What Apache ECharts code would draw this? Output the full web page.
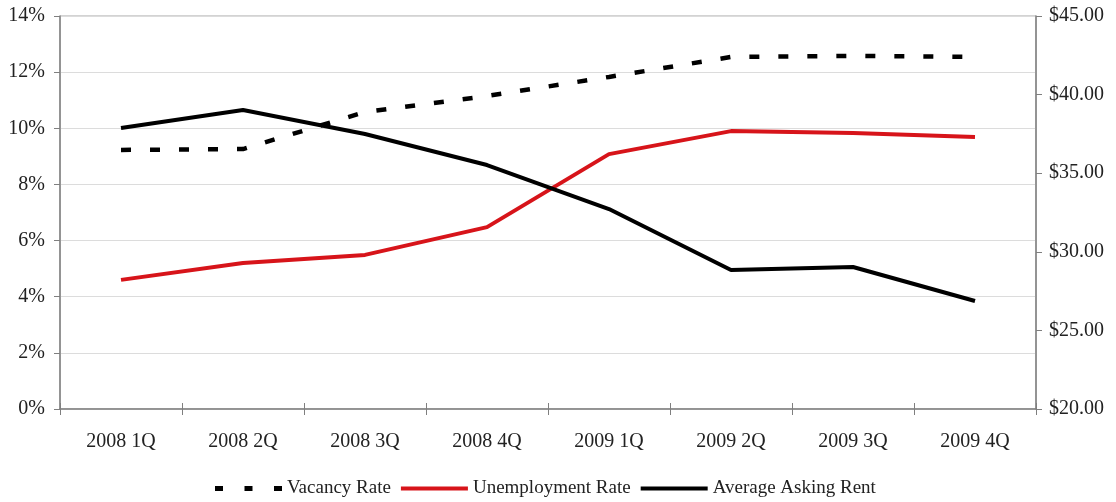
<!DOCTYPE html>
<html>
<head>
<meta charset="utf-8">
<script src="https://cdn.jsdelivr.net/npm/echarts@6/dist/echarts.min.js"></script>
<style>
  html, body { margin: 0; padding: 0; background: #fff; }
  #chart { width: 1116px; height: 502px; }
</style>
</head>
<body>
<div id="chart"></div>
<script>
// Quarterly office market indicators, 2008-2009
const quarters = ['2008 1Q', '2008 2Q', '2008 3Q', '2008 4Q', '2009 1Q', '2009 2Q', '2009 3Q', '2009 4Q'];
const vacancyRate = [9.23, 9.26, 10.58, 11.15, 11.83, 12.54, 12.58, 12.54];
const unemploymentRate = [4.6, 5.2, 5.49, 6.48, 9.08, 9.9, 9.83, 9.69];
const askingRent = [37.88, 39.02, 37.49, 35.52, 32.72, 28.84, 29.03, 26.87];

const fontFamily = '"Liberation Serif", "Times New Roman", serif';
const textColor = '#222';
const axisGray = '#7f7f7f';
const labelSize = 20;

// legend glyphs: three short blocks for the dashed series, solid bars for the others
const dashIcon = 'path://M0,0h8v5h-8z M29.5,0h8v5h-8z M59,0h8v5h-8z';
const barIcon = 'path://M0,0.5h67v4h-67z';

const chart = echarts.init(document.getElementById('chart'), null, { renderer: 'canvas' });

chart.setOption({
  animation: false,
  backgroundColor: '#fff',
  textStyle: { fontFamily: fontFamily, color: textColor },
  grid: {
    left: 60, right: 80, top: 16, bottom: 93,
    show: true, borderColor: '#a6a6a6', borderWidth: 1
  },
  legend: {
    top: 474,
    left: 210,
    itemGap: 10,
    itemWidth: 67,
    itemHeight: 5,
    textStyle: { fontFamily: fontFamily, fontSize: 19, color: textColor },
    data: [
      { name: 'Vacancy Rate', icon: dashIcon },
      { name: 'Unemployment Rate', icon: barIcon },
      { name: 'Average Asking Rent', icon: barIcon }
    ]
  },
  xAxis: [
    {
      type: 'category',
      data: quarters,
      boundaryGap: true,
      axisLine: { lineStyle: { color: axisGray, width: 1.5 } },
      axisTick: { show: true, length: 6, lineStyle: { color: axisGray } },
      axisLabel: { fontSize: labelSize, color: textColor, margin: 23, fontFamily: fontFamily }
    },
    {
      // inner half of the crossing category ticks
      type: 'category',
      data: quarters,
      position: 'bottom',
      boundaryGap: true,
      axisLine: { show: false },
      axisTick: { show: true, inside: true, length: 6, lineStyle: { color: axisGray } },
      axisLabel: { show: false },
      splitLine: { show: false }
    }
  ],
  yAxis: [
    {
      type: 'value',
      min: 0, max: 14, interval: 2,
      axisLine: { show: true, lineStyle: { color: axisGray, width: 1.5 } },
      axisTick: { show: true, length: 6, lineStyle: { color: axisGray } },
      axisLabel: { formatter: '{value}%', fontSize: labelSize, color: textColor, margin: 15, fontFamily: fontFamily },
      splitLine: { show: true, lineStyle: { color: '#dcdcdc', width: 1 } }
    },
    {
      type: 'value',
      min: 20, max: 45, interval: 5,
      position: 'right',
      axisLine: { show: true, lineStyle: { color: axisGray, width: 1.5 } },
      axisTick: { show: true, length: 6, lineStyle: { color: axisGray } },
      axisLabel: {
        formatter: v => '$' + v.toFixed(2),
        fontSize: labelSize, color: textColor, margin: 13, fontFamily: fontFamily
      },
      splitLine: { show: false }
    }
  ],
  series: [
    {
      name: 'Vacancy Rate',
      type: 'line',
      yAxisIndex: 0,
      data: vacancyRate,
      symbol: 'none',
      color: '#000',
      lineStyle: { color: '#000', width: 4.5, type: [10, 19] },
      z: 3
    },
    {
      name: 'Unemployment Rate',
      type: 'line',
      yAxisIndex: 0,
      data: unemploymentRate,
      symbol: 'none',
      color: '#d7141a',
      lineStyle: { color: '#d7141a', width: 4 },
      z: 2
    },
    {
      name: 'Average Asking Rent',
      type: 'line',
      yAxisIndex: 1,
      data: askingRent,
      symbol: 'none',
      color: '#000',
      lineStyle: { color: '#000', width: 4 },
      z: 4
    }
  ]
});
</script>
</body>
</html>
